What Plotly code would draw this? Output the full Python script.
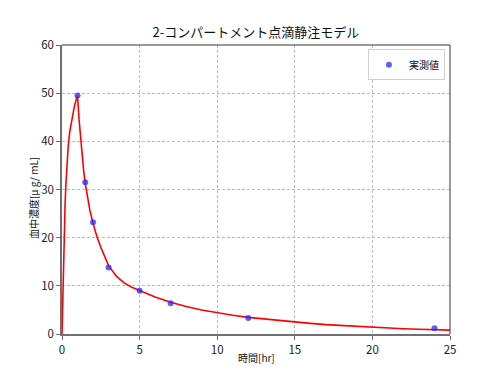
import plotly.graph_objects as go

# measured points
obs_t = [1, 1.5, 2, 3, 5, 7, 12, 24]
obs_c = [49.5, 31.5, 23.2, 13.8, 9.0, 6.4, 3.3, 1.2]

# model curve
fit_t = [0, 0.05, 0.1, 0.15, 0.2, 0.25, 0.3, 0.4, 0.5, 0.6, 0.7, 0.8, 0.9, 1.0,
         1.1, 1.2, 1.3, 1.4, 1.5, 1.6, 1.8, 2.0, 2.25, 2.5, 2.75, 3.0, 3.5, 4.0,
         4.5, 5.0, 6.0, 7.0, 8.0, 9.0, 10.0, 11.0, 12.0, 13.0, 14.0, 15.0, 16.0,
         17.0, 18.0, 19.0, 20.0, 21.0, 22.0, 23.0, 24.0, 25.0]
fit_c = [0, 8.5, 16, 22, 27, 31, 34, 39, 42, 44, 45.8, 47.3, 48.5, 49.5,
         44.5, 40.3, 36.7, 33.7, 31.2, 29.0, 25.6, 23.0, 20.2, 18.0, 16.0, 14.2, 12.0, 10.6,
         9.7, 9.0, 7.7, 6.6, 5.7, 5.0, 4.4, 3.9, 3.45, 3.1, 2.75, 2.45, 2.2,
         1.95, 1.75, 1.55, 1.4, 1.25, 1.1, 1.0, 0.9, 0.8]

x_ticks = [0, 5, 10, 15, 20, 25]
y_ticks = [0, 10, 20, 30, 40, 50, 60]

title_text = "2-コンパートメント点滴静注モデル"
x_label = "時間[hr]"
y_label = "血中濃度[μ g/ mL]"
legend_label = "実測値"

FONT = "Noto Sans CJK JP, Noto Sans, sans-serif"

fig = go.Figure()
fig.add_trace(go.Scatter(x=fit_t, y=fit_c, mode="lines",
                         line=dict(color="#ff0000", width=1.6),
                         showlegend=False, hoverinfo="skip"))
fig.add_trace(go.Scatter(x=obs_t, y=obs_c, mode="markers", name=legend_label,
                         marker=dict(color="rgba(40,40,255,0.75)", size=6)))

axis_common = dict(showgrid=True, gridcolor="#bdbdbd", griddash="3px,2px", gridwidth=0.8,
                   zeroline=False, showline=True, linecolor="#707070", linewidth=1.5,
                   ticks="outside", ticklen=4, tickcolor="#707070", mirror=False,
                   automargin=False,
                   tickfont=dict(family=FONT, size=11.5, color="#222"))

fig.update_xaxes(range=[0, 25], tickvals=x_ticks, **axis_common)
fig.update_yaxes(range=[0, 60], tickvals=y_ticks, **axis_common)

# axis labels
fig.add_annotation(text=x_label, xref="paper", yref="paper", x=0.5, y=-0.08,
                   xanchor="center", yanchor="middle", showarrow=False,
                   font=dict(family=FONT, size=10, color="#111"))
fig.add_annotation(text=y_label, xref="paper", yref="paper", x=-0.075, y=0.47,
                   xanchor="center", yanchor="middle", showarrow=False, textangle=-90,
                   font=dict(family=FONT, size=10, color="#111"))

# top/right frame
fig.add_shape(type="line", xref="paper", yref="paper", x0=0, x1=1, y0=1, y1=1,
              line=dict(color="#333", width=1))
fig.add_shape(type="line", xref="paper", yref="paper", x0=1, x1=1, y0=0, y1=1,
              line=dict(color="#333", width=1))

# page body has an 8px margin, so the figure is sized to fit inside the window
fig.update_layout(
    width=484, height=359,
    margin=dict(l=54, r=42, t=37, b=33),
    paper_bgcolor="white", plot_bgcolor="white",
    title=dict(text=title_text, x=0.512, xanchor="center",
               y=0.933, yanchor="middle",
               font=dict(family=FONT, size=13, color="#111")),
    legend=dict(x=0.987, y=0.985, xanchor="right", yanchor="top",
                bgcolor="rgba(255,255,255,0.9)", bordercolor="#d0d0d0", borderwidth=1,
                font=dict(family=FONT, size=10, color="#111"),
                itemwidth=30),
    font=dict(family=FONT),
)

fig.write_html("out.html")
